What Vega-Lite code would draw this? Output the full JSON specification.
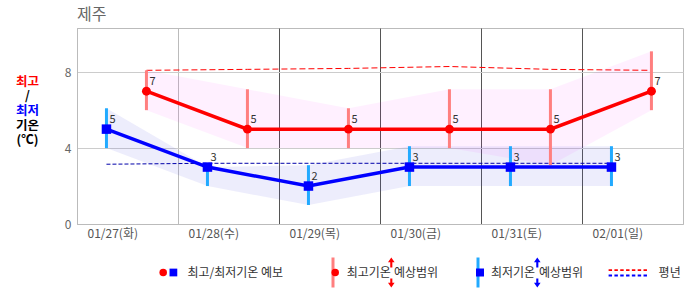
{
  "$schema": "https://vega.github.io/schema/vega-lite/v6.json",
  "width": 606,
  "height": 196,
  "autosize": {"type": "none"},
  "padding": {"left": 77, "top": 28, "right": 3, "bottom": 71},
  "background": "white",
  "title": {"text": "제주", "anchor": "start", "frame": "group", "fontSize": 16, "fontWeight": "normal", "color": "#666666", "offset": 5},
  "config": {
    "font": "Noto Sans CJK KR",
    "view": {"stroke": "#bbbbbb"},
    "legend": {"orient": "none", "padding": 0, "labelFontSize": 12, "labelColor": "#333333", "symbolOpacity": 1, "symbolStrokeWidth": 0, "labelLimit": 300}
  },
  "datasets": {
    "temps": [
      {"day": "01/27", "kind": "max", "t": "2026-01-27T16:30:00Z", "v": 7, "lo": 6, "hi": 8.1, "norm": 8.1},
      {"day": "01/28", "kind": "max", "t": "2026-01-28T16:30:00Z", "v": 5, "lo": 4, "hi": 7.1, "norm": 8.15},
      {"day": "01/29", "kind": "max", "t": "2026-01-29T16:30:00Z", "v": 5, "lo": 4, "hi": 6.1, "norm": 8.2},
      {"day": "01/30", "kind": "max", "t": "2026-01-30T16:30:00Z", "v": 5, "lo": 4, "hi": 7.1, "norm": 8.3},
      {"day": "01/31", "kind": "max", "t": "2026-01-31T16:30:00Z", "v": 5, "lo": 3.1, "hi": 7.1, "norm": 8.15},
      {"day": "02/01", "kind": "max", "t": "2026-02-01T16:30:00Z", "v": 7, "lo": 6, "hi": 9.1, "norm": 8.1},
      {"day": "01/27", "kind": "min", "t": "2026-01-27T07:00:00Z", "v": 5, "lo": 4, "hi": 6.1, "norm": 3.15},
      {"day": "01/28", "kind": "min", "t": "2026-01-28T07:00:00Z", "v": 3, "lo": 2, "hi": 3, "norm": 3.2},
      {"day": "01/29", "kind": "min", "t": "2026-01-29T07:00:00Z", "v": 2, "lo": 1, "hi": 3.1, "norm": 3.2},
      {"day": "01/30", "kind": "min", "t": "2026-01-30T07:00:00Z", "v": 3, "lo": 2, "hi": 4.1, "norm": 3.2},
      {"day": "01/31", "kind": "min", "t": "2026-01-31T07:00:00Z", "v": 3, "lo": 2, "hi": 4.1, "norm": 3.2},
      {"day": "02/01", "kind": "min", "t": "2026-02-01T07:00:00Z", "v": 3, "lo": 2, "hi": 4.1, "norm": 3.2}
    ],
    "legend": [
      {"id": "l1", "label": ""},
      {"id": "l2", "label": "최고/최저기온 예보"},
      {"id": "l3", "label": ""},
      {"id": "l4", "label": "최고기온"},
      {"id": "l5", "label": "예상범위"},
      {"id": "l6", "label": ""},
      {"id": "l7", "label": "최저기온"},
      {"id": "l8", "label": "예상범위"},
      {"id": "l9", "label": ""},
      {"id": "l10", "label": "평년"}
    ],
    "ylab": [
      {"label": "최고"},
      {"label": "/"},
      {"label": "최저"},
      {"label": "기온"},
      {"label": "(℃)"}
    ]
  },
  "resolve": {"scale": {"color": "independent"}},
  "layer": [
    {
      "data": {"name": "temps"},
      "encoding": {
        "x": {
          "field": "t", "type": "temporal", "title": null,
          "scale": {"type": "utc", "nice": false, "domain": [{"year": 2026, "month": 1, "date": 27, "utc": true}, {"year": 2026, "month": 2, "date": 2, "utc": true}]},
          "axis": {
            "values": [
              {"year": 2026, "month": 1, "date": 27, "utc": true},
              {"year": 2026, "month": 1, "date": 28, "utc": true},
              {"year": 2026, "month": 1, "date": 29, "utc": true},
              {"year": 2026, "month": 1, "date": 30, "utc": true},
              {"year": 2026, "month": 1, "date": 31, "utc": true},
              {"year": 2026, "month": 2, "date": 1, "utc": true}
            ],
            "labelExpr": "utcFormat(datum.value, '%m/%d') + '(' + ['일','월','화','수','목','금','토'][utcday(datum.value)] + ')'",
            "labelAlign": "left", "labelOffset": 10, "labelFlush": false, "labelOverlap": false,
            "ticks": false, "domainColor": "#bbbbbb",
            "grid": true,
            "gridColor": {"condition": {"test": "utcdate(datum.value) >= 29 || utcdate(datum.value) <= 1", "value": "#555555"}, "value": "#bbbbbb"},
            "labelColor": "#555555", "labelFontSize": 12, "labelPadding": 4
          }
        }
      },
      "layer": [
        {
          "transform": [{"filter": "datum.kind === 'max'"}],
          "mark": {"type": "area", "color": "#ff00ff", "opacity": 0.06},
          "encoding": {
            "y": {"field": "hi", "type": "quantitative", "title": null,
              "scale": {"domain": [0, 10.33], "nice": false},
              "axis": {"values": [0, 1, 2, 3, 4, 5, 6, 7, 8, 9, 10], "labelExpr": "datum.value % 4 === 0 ? datum.label : ''", "ticks": false, "domainColor": "#bbbbbb", "gridColor": "#cccccc", "labelColor": "#666666", "labelFontSize": 12, "labelPadding": 6}},
            "y2": {"field": "lo"}
          }
        },
        {
          "transform": [{"filter": "datum.kind === 'min'"}],
          "mark": {"type": "area", "color": "#5050e0", "opacity": 0.1},
          "encoding": {
            "y": {"field": "hi", "type": "quantitative", "title": null},
            "y2": {"field": "lo"}
          }
        },
        {
          "transform": [{"filter": "datum.kind === 'max'"}],
          "mark": {"type": "line", "color": "#ff0000", "strokeWidth": 1, "strokeDash": [6, 3]},
          "encoding": {"y": {"field": "norm", "type": "quantitative", "title": null}}
        },
        {
          "transform": [{"filter": "datum.kind === 'min'"}],
          "mark": {"type": "line", "color": "#0000aa", "strokeWidth": 1, "strokeDash": [4, 2]},
          "encoding": {"y": {"field": "norm", "type": "quantitative", "title": null}}
        },
        {
          "transform": [{"filter": "datum.kind === 'max'"}],
          "mark": {"type": "rule", "color": "#ff7f7f", "strokeWidth": 3},
          "encoding": {"y": {"field": "lo", "type": "quantitative", "title": null}, "y2": {"field": "hi"}}
        },
        {
          "transform": [{"filter": "datum.kind === 'min'"}],
          "mark": {"type": "rule", "color": "#22aaff", "strokeWidth": 3},
          "encoding": {"y": {"field": "lo", "type": "quantitative", "title": null}, "y2": {"field": "hi"}}
        },
        {
          "transform": [{"filter": "datum.kind === 'max'"}],
          "mark": {"type": "line", "color": "#ff0000", "strokeWidth": 3.5},
          "encoding": {"y": {"field": "v", "type": "quantitative", "title": null}}
        },
        {
          "transform": [{"filter": "datum.kind === 'min'"}],
          "mark": {"type": "line", "color": "#0000ff", "strokeWidth": 3.5},
          "encoding": {"y": {"field": "v", "type": "quantitative", "title": null}}
        },
        {
          "transform": [{"filter": "datum.kind === 'max'"}],
          "mark": {"type": "point", "shape": "circle", "filled": true, "color": "#ff0000", "opacity": 1, "size": 80},
          "encoding": {"y": {"field": "v", "type": "quantitative", "title": null}}
        },
        {
          "transform": [{"filter": "datum.kind === 'min'"}],
          "mark": {"type": "point", "shape": "square", "filled": true, "color": "#0000ff", "opacity": 1, "size": 90},
          "encoding": {"y": {"field": "v", "type": "quantitative", "title": null}}
        },
        {
          "mark": {"type": "text", "align": "left", "baseline": "middle", "dx": 3, "dy": -9, "fontSize": 11, "color": "#333333"},
          "encoding": {"y": {"field": "v", "type": "quantitative", "title": null}, "text": {"field": "v", "type": "quantitative"}}
        }
      ]
    },
    {
      "data": {"name": "legend"}, "transform": [{"filter": "datum.id === 'l1'"}],
      "mark": {"type": "point", "filled": true, "opacity": 0},
      "encoding": {"color": {"field": "label", "type": "nominal", "scale": {"range": ["#ff0000"]}, "legend": {"title": null, "legendX": 80.2, "legendY": 238.5, "symbolType": "circle", "symbolSize": 57}}}
    },
    {
      "data": {"name": "legend"}, "transform": [{"filter": "datum.id === 'l2'"}],
      "mark": {"type": "point", "filled": true, "opacity": 0},
      "encoding": {"color": {"field": "label", "type": "nominal", "scale": {"range": ["#0000ff"]}, "legend": {"title": null, "legendX": 90.4, "legendY": 238.5, "symbolType": "square", "symbolSize": 60, "labelOffset": 8}}}
    },
    {
      "data": {"name": "legend"}, "transform": [{"filter": "datum.id === 'l3'"}],
      "mark": {"type": "point", "filled": true, "opacity": 0},
      "encoding": {"color": {"field": "label", "type": "nominal", "scale": {"range": ["#ff7f7f"]}, "legend": {"title": null, "legendX": 241, "legendY": 229.5, "symbolType": "M-0.1,-1H0.1V1H-0.1Z", "symbolSize": 900}}}
    },
    {
      "data": {"name": "legend"}, "transform": [{"filter": "datum.id === 'l4'"}],
      "mark": {"type": "point", "filled": true, "opacity": 0},
      "encoding": {"color": {"field": "label", "type": "nominal", "scale": {"range": ["#ff0000"]}, "legend": {"title": null, "legendX": 252.2, "legendY": 238.5, "symbolType": "circle", "symbolSize": 57, "labelOffset": 5.5}}}
    },
    {
      "data": {"name": "legend"}, "transform": [{"filter": "datum.id === 'l5'"}],
      "mark": {"type": "point", "filled": true, "opacity": 0},
      "encoding": {"color": {"field": "label", "type": "nominal", "scale": {"range": ["#ff0000"]}, "legend": {"title": null, "legendX": 299.3, "legendY": 229.5, "symbolType": "M0,-1L0.22,-0.68L0.07,-0.68L0.07,-0.33L-0.07,-0.33L-0.07,-0.68L-0.22,-0.68Z M0,1L0.22,0.68L0.07,0.68L0.07,0.4L-0.07,0.4L-0.07,0.68L-0.22,0.68Z", "symbolSize": 900, "labelOffset": -12.3}}}
    },
    {
      "data": {"name": "legend"}, "transform": [{"filter": "datum.id === 'l6'"}],
      "mark": {"type": "point", "filled": true, "opacity": 0},
      "encoding": {"color": {"field": "label", "type": "nominal", "scale": {"range": ["#22aaff"]}, "legend": {"title": null, "legendX": 386, "legendY": 229.5, "symbolType": "M-0.1,-1H0.1V1H-0.1Z", "symbolSize": 900}}}
    },
    {
      "data": {"name": "legend"}, "transform": [{"filter": "datum.id === 'l7'"}],
      "mark": {"type": "point", "filled": true, "opacity": 0},
      "encoding": {"color": {"field": "label", "type": "nominal", "scale": {"range": ["#0000ff"]}, "legend": {"title": null, "legendX": 397, "legendY": 238.5, "symbolType": "square", "symbolSize": 64, "labelOffset": 5}}}
    },
    {
      "data": {"name": "legend"}, "transform": [{"filter": "datum.id === 'l8'"}],
      "mark": {"type": "point", "filled": true, "opacity": 0},
      "encoding": {"color": {"field": "label", "type": "nominal", "scale": {"range": ["#0000ff"]}, "legend": {"title": null, "legendX": 445.3, "legendY": 229.5, "symbolType": "M0,-1L0.22,-0.68L0.07,-0.68L0.07,-0.33L-0.07,-0.33L-0.07,-0.68L-0.22,-0.68Z M0,1L0.22,0.68L0.07,0.68L0.07,0.4L-0.07,0.4L-0.07,0.68L-0.22,0.68Z", "symbolSize": 900, "labelOffset": -13.3}}}
    },
    {
      "data": {"name": "legend"}, "transform": [{"filter": "datum.id === 'l9'"}],
      "mark": {"type": "point", "filled": true, "opacity": 0},
      "encoding": {"color": {"field": "label", "type": "nominal", "scale": {"range": ["#ff0000"]}, "legend": {"title": null, "legendX": 531.3, "legendY": 225.3, "symbolType": "M-1,-0.19h0.18v0.1h-0.18Z M-0.697,-0.19h0.18v0.1h-0.18Z M-0.394,-0.19h0.18v0.1h-0.18Z M-0.091,-0.19h0.18v0.1h-0.18Z M0.212,-0.19h0.18v0.1h-0.18Z M0.515,-0.19h0.18v0.1h-0.18Z M0.818,-0.19h0.18v0.1h-0.18Z", "symbolSize": 1475}}}
    },
    {
      "data": {"name": "legend"}, "transform": [{"filter": "datum.id === 'l10'"}],
      "mark": {"type": "point", "filled": true, "opacity": 0},
      "encoding": {"color": {"field": "label", "type": "nominal", "scale": {"range": ["#0000ff"]}, "legend": {"title": null, "legendX": 531.3, "legendY": 225.3, "symbolType": "M-1,0.09h0.18v0.1h-0.18Z M-0.697,0.09h0.18v0.1h-0.18Z M-0.394,0.09h0.18v0.1h-0.18Z M-0.091,0.09h0.18v0.1h-0.18Z M0.212,0.09h0.18v0.1h-0.18Z M0.515,0.09h0.18v0.1h-0.18Z M0.818,0.09h0.18v0.1h-0.18Z", "symbolSize": 1475, "labelOffset": 11.3}}}
    },
    {
      "data": {"name": "ylab"},
      "mark": {"type": "point", "filled": true, "opacity": 0},
      "encoding": {"color": {"field": "label", "type": "nominal", "sort": null, "scale": {"range": ["#ff0000", "#000000", "#0000ff", "#000000", "#000000"]}, "legend": {"title": null, "direction": "vertical", "legendX": -62, "legendY": 47.5, "symbolSize": 0, "symbolOpacity": 0, "labelAlign": "center", "labelOffset": 0, "labelFontSize": 12.5, "labelFontWeight": "bold", "rowPadding": 1.6, "labelColor": "#000000", "encode": {"labels": {"update": {"fill": {"signal": "datum.label === '최고' ? '#ff0000' : datum.label === '최저' ? '#0000ff' : '#000000'"}}}}}}}
    }
  ]
}
